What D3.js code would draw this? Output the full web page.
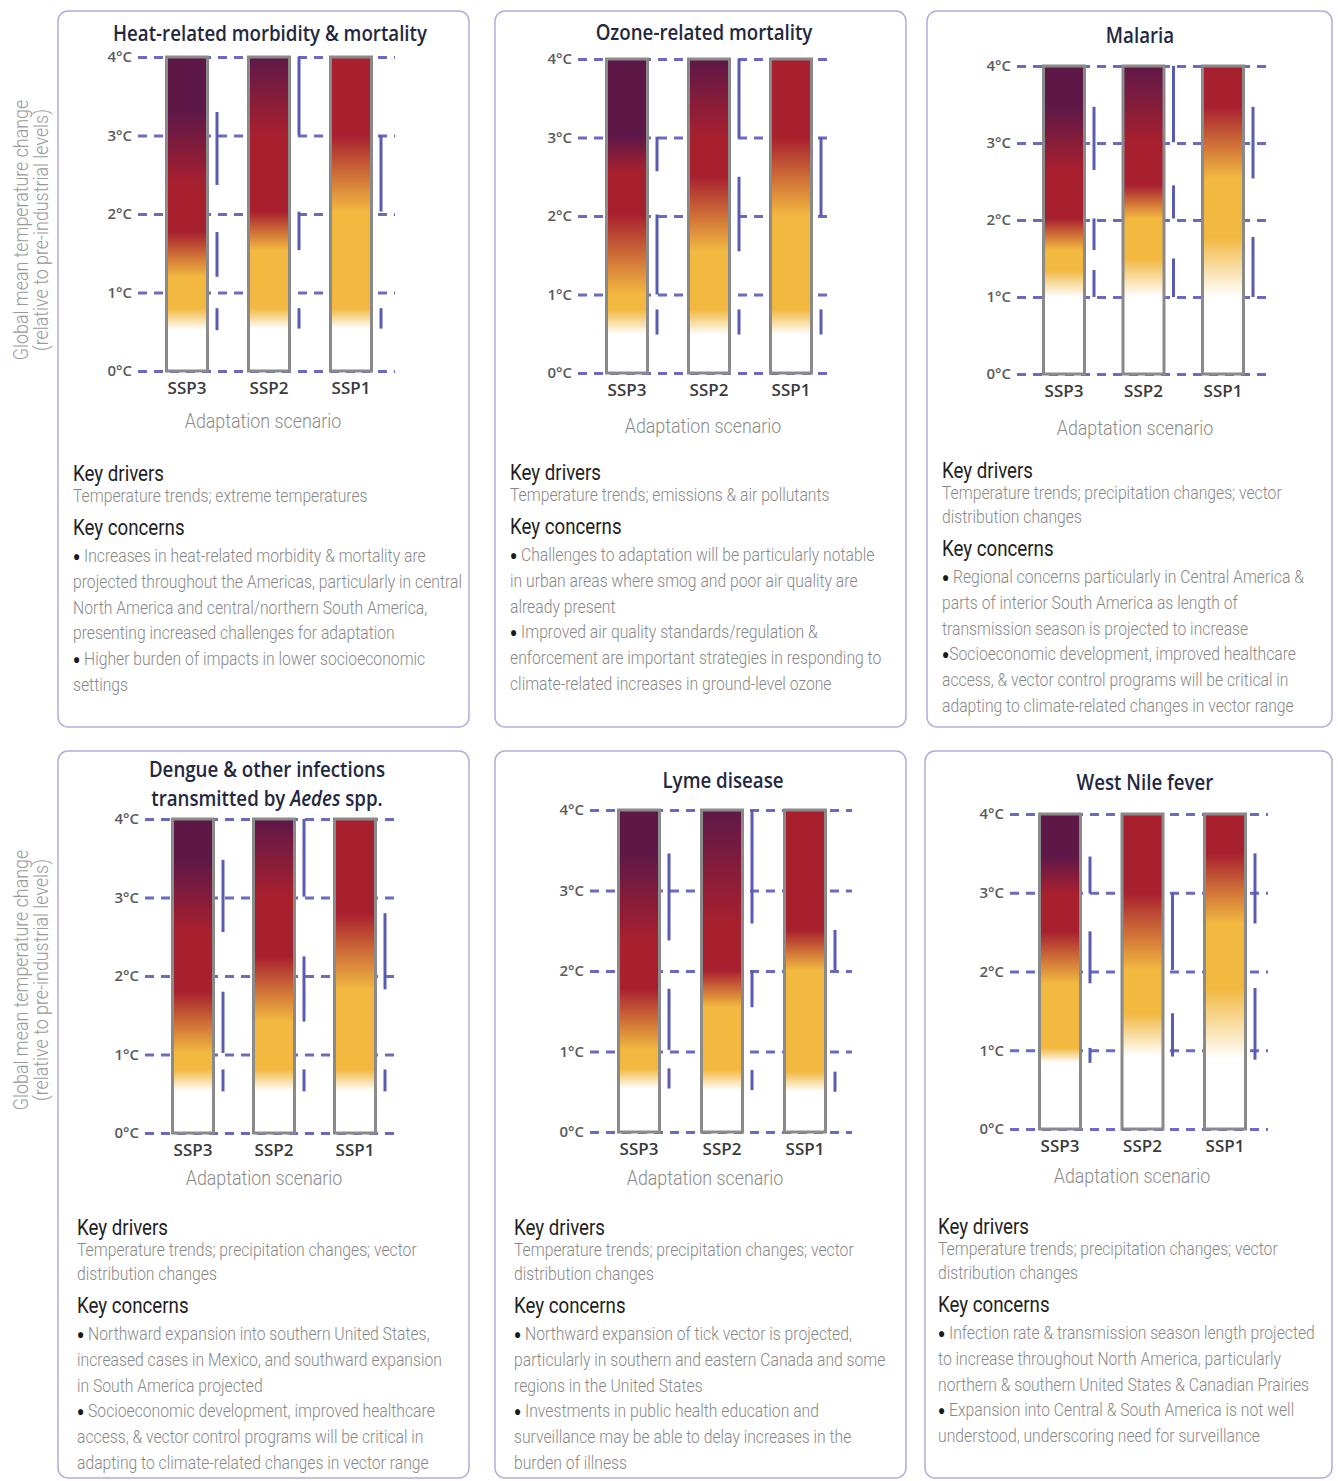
<!DOCTYPE html>
<html><head><meta charset="utf-8">
<script src="https://cdn.jsdelivr.net/npm/d3@7"></script>
<style>
body{margin:0;background:#fff;}
</style></head><body>
<div id="chart"></div>
<script>
// ---- data ----
const scenarios = ["SSP3", "SSP2", "SSP1"];
const tempTicks = [0, 1, 2, 3, 4];
const tickLabels = ["0°C", "1°C", "2°C", "3°C", "4°C"];

const titles = [
	["Heat-related morbidity & mortality"],
	["Ozone-related mortality"],
	["Malaria"],
	["Dengue & other infections", "transmitted by *Aedes* spp."],
	["Lyme disease"],
	["West Nile fever"]
];

// transition ranges (°C) per scenario: [none->moderate, moderate->high, high->very high]
const heatTransitions = [
	[[0.52, 0.80], [1.20, 1.77], [2.37, 3.30]],
	[[0.54, 0.80], [1.54, 2.03], [3.00, 4.00]],
	[[0.54, 0.80], [2.03, 3.00], null]
];
const ozoneTransitions = [
	[[0.49, 0.81], [1.00, 2.02], [2.57, 3.01]],
	[[0.49, 0.81], [1.55, 2.50], [2.99, 4.00]],
	[[0.49, 0.81], [2.00, 3.00], null]
];
const malariaTransitions = [
	[[1.00, 1.35], [1.61, 2.02], [2.65, 3.47]],
	[[1.00, 1.50], [2.02, 2.45], [3.01, 4.00]],
	[[1.00, 1.78], [2.54, 3.47], null]
];
const dengueTransitions = [
	[[0.53, 0.81], [1.02, 1.80], [2.56, 3.48]],
	[[0.53, 0.81], [1.42, 2.25], [3.01, 4.00]],
	[[0.53, 0.81], [1.83, 2.80], null]
];
const lymeTransitions = [
	[[0.54, 0.79], [1.02, 1.78], [2.38, 3.46]],
	[[0.52, 0.77], [1.55, 2.01], [2.59, 4.00]],
	[[0.50, 0.75], [2.01, 2.51], null]
];
const westNileTransitions = [
	[[0.84, 1.03], [1.85, 2.51], [2.99, 3.46]],
	[[0.92, 1.47], [2.02, 2.99], null],
	[[0.88, 1.79], [2.61, 3.50], null]
];
const transitions = [heatTransitions, ozoneTransitions, malariaTransitions,
	dengueTransitions, lymeTransitions, westNileTransitions];

const vectorDrivers = ["Temperature trends; precipitation changes; vector", "distribution changes"];
const drivers = [
	["Temperature trends; extreme temperatures"],
	["Temperature trends; emissions & air pollutants"],
	vectorDrivers, vectorDrivers, vectorDrivers, vectorDrivers
];
const concerns = [
	["• Increases in heat-related morbidity & mortality are",
	 "projected throughout the Americas, particularly in central",
	 "North America and central/northern South America,",
	 "presenting increased challenges for adaptation",
	 "• Higher burden of impacts in lower socioeconomic",
	 "settings"],
	["• Challenges to adaptation will be particularly notable",
	 "in urban areas where smog and poor air quality are",
	 "already present",
	 "• Improved air quality standards/regulation &",
	 "enforcement are important strategies in responding to",
	 "climate-related increases in ground-level ozone"],
	["• Regional concerns particularly in Central America &",
	 "parts of interior South America as length of",
	 "transmission season is projected to increase",
	 "•Socioeconomic development, improved healthcare",
	 "access, & vector control programs will be critical in",
	 "adapting to climate-related changes in vector range"],
	["• Northward expansion into southern United States,",
	 "increased cases in Mexico, and southward expansion",
	 "in South America projected",
	 "• Socioeconomic development, improved healthcare",
	 "access, & vector control programs will be critical in",
	 "adapting to climate-related changes in vector range"],
	["• Northward expansion of tick vector is projected,",
	 "particularly in southern and eastern Canada and some",
	 "regions in the United States",
	 "• Investments in public health education and",
	 "surveillance may be able to delay increases in the",
	 "burden of illness"],
	["• Infection rate & transmission season length projected",
	 "to increase throughout North America, particularly",
	 "northern & southern United States & Canadian Prairies",
	 "• Expansion into Central & South America is not well",
	 "understood, underscoring need for surveillance"]
];

// ---- layout (pixels) ----
const layout = [
	{box: [58, 11, 469, 727], left: 165, right: 373, y4: 57, y0: 371, g0: 138, g1: 395, titleX: 270, titleY: 41, axX: 263, axY: 428, tx: 73, ty: 481},
	{box: [495, 11, 906, 727], left: 605, right: 813, y4: 59, y0: 373, g0: 578, g1: 833, titleX: 704, titleY: 40, axX: 703, axY: 433, tx: 510, ty: 480},
	{box: [927, 11, 1332, 727], left: 1042, right: 1245, y4: 66, y0: 374, g0: 1017, g1: 1267, titleX: 1140, titleY: 43, axX: 1135, axY: 435, tx: 942, ty: 478},
	{box: [58, 751, 469, 1478], left: 171, right: 377, y4: 819, y0: 1133, g0: 145, g1: 397, titleX: 267, titleY: 777, axX: 264, axY: 1185, tx: 77, ty: 1235},
	{box: [495, 751, 906, 1478], left: 617, right: 827, y4: 810, y0: 1132, g0: 590, g1: 852, titleX: 723, titleY: 788, axX: 705, axY: 1185, tx: 514, ty: 1235},
	{box: [925, 751, 1332, 1478], left: 1038, right: 1247, y4: 814, y0: 1129, g0: 1010, g1: 1268, titleX: 1145, titleY: 790, axX: 1132, axY: 1183, tx: 938, ty: 1234}
];

const emberColors = ["#ffffff", "#f2b840", "#a8202e", "#5e1848"];
const barW = 44;
const lineCol = "#5b5bb3";
const textScale = 0.85;

const svg = d3.select("#chart").append("svg")
	.attr("width", 1338).attr("height", 1481);
const defs = svg.append("defs");

function addLine(g, str, x, y, opts) {
	const w = g.append("g").attr("transform", `translate(${x},${y}) scale(${opts.sx},1)`);
	const t = w.append("text")
		.attr("text-anchor", opts.anchor || "start")
		.style("font-family", opts.family || "Roboto")
		.style("font-weight", opts.weight || 300)
		.style("font-size", opts.size + "px")
		.attr("fill", opts.fill);
	let dy = 0;
	if (str.startsWith("•")) {
		t.append("tspan").attr("fill", "#1a1a1a")
			.style("font-size", "14px").attr("dy", -1.5).text("●");
		dy = 1.5;
		str = str.startsWith("• ") ? " " + str.slice(2) : str.slice(1);
	}
	str.split("*").forEach((part, i) => {
		const s = t.append("tspan").text(part);
		if (i == 0 && dy) s.attr("dy", dy);
		if (i % 2 == 1) s.style("font-style", "italic");
	});
	return w;
}

// y axis titles
[230, 980].forEach(cy => {
	const yt = svg.append("g");
	[["Global mean temperature change", 28], ["(relative to pre-industrial levels)", 48]].forEach(([s, x]) => {
		yt.append("g").attr("transform", `translate(${x},${cy}) rotate(-90) scale(${textScale},1)`)
			.append("text").attr("text-anchor", "middle")
			.style("font-family", "Roboto").style("font-weight", 300).style("font-size", "21px")
			.attr("fill", "#9a9a9a").text(s);
	});
});

layout.forEach((L, p) => {
	const g = svg.append("g");
	const [bx0, by0, bx1, by1] = L.box;
	g.append("rect")
		.attr("x", bx0).attr("y", by0)
		.attr("width", bx1 - bx0).attr("height", by1 - by0)
		.attr("rx", 10)
		.attr("fill", "white")
		.attr("stroke", "#b3acdb").attr("stroke-width", 1.5);

	// title
	titles[p].forEach((s, i) => {
		addLine(g, s, L.titleX, L.titleY + i * 29, {sx: 0.87, anchor: "middle", family: "Open Sans", weight: 600, size: 21.5, fill: "#232840"});
	});

	const W = L.right - L.left;
	const x = d3.scaleBand()
		.domain(scenarios)
		.range([L.left, L.right])
		.paddingInner((W - 3 * barW) / (W - barW))
		.paddingOuter(0);

	const y = d3.scaleLinear()
		.domain([0, 4])
		.range([L.y0, L.y4]);

	// dashed grid + tick labels
	const ax = g.append("g")
		.attr("transform", `translate(${L.g0},0)`)
		.call(d3.axisLeft(y).tickValues(tempTicks)
			.tickFormat((d, i) => tickLabels[i])
			.tickSizeInner(-(L.g1 - L.g0)).tickSizeOuter(0).tickPadding(6));
	ax.select(".domain").remove();
	ax.selectAll(".tick line")
		.attr("stroke", "#6a6ac0").attr("stroke-width", 3)
		.attr("stroke-dasharray", "9,7");
	ax.selectAll(".tick text")
		.style("font-family", "Open Sans").style("font-weight", 600)
		.style("font-size", "15px").attr("fill", "#5a5a5a");

	// SSP labels
	const bx = g.append("g")
		.attr("transform", `translate(0,${L.y0})`)
		.call(d3.axisBottom(x).tickSize(0).tickPadding(11));
	bx.select(".domain").remove();
	bx.selectAll(".tick text")
		.style("font-family", "Open Sans").style("font-weight", 600)
		.style("font-size", "17px").attr("fill", "#3a3a3a");

	// ember bars
	scenarios.forEach((sc, i) => {
		const tr = transitions[p][i];
		const id = `ember${p}_${i}`;
		const stops = [[0, 0]];
		tr.forEach((r, k) => {
			if (r) { stops.push([r[0], k]); stops.push([r[1], k + 1]); }
		});
		stops.push([4, stops[stops.length - 1][1]]);
		const grad = defs.append("linearGradient").attr("id", id)
			.attr("gradientUnits", "userSpaceOnUse")
			.attr("x1", 0).attr("x2", 0)
			.attr("y1", y(0)).attr("y2", y(4));
		grad.selectAll("stop").data(stops).join("stop")
			.attr("offset", d => d[0] / 4)
			.attr("stop-color", d => emberColors[d[1]]);

		g.append("rect")
			.attr("x", x(sc) + 1.5).attr("y", y(4))
			.attr("width", x.bandwidth() - 3).attr("height", y(0) - y(4))
			.attr("fill", `url(#${id})`)
			.attr("stroke", "#8a8a8a").attr("stroke-width", 3);

		// transition range markers
		g.selectAll(null)
			.data(tr.filter(r => r))
			.join("line")
			.attr("x1", x(sc) + x.bandwidth() + 8).attr("x2", x(sc) + x.bandwidth() + 8)
			.attr("y1", d => y(d[0])).attr("y2", d => y(d[1]))
			.attr("stroke", lineCol).attr("stroke-width", 3);
	});

	// x axis title
	addLine(g, "Adaptation scenario", L.axX, L.axY, {sx: textScale, anchor: "middle", size: 21, fill: "#8a8a8a"});

	// text block
	let ty = L.ty;
	addLine(g, "Key drivers", L.tx, ty, {sx: textScale, weight: 400, size: 22, fill: "#222"});
	ty += 21;
	drivers[p].forEach((s, i) => {
		addLine(g, s, L.tx, ty + i * 24, {sx: textScale, size: 18.5, fill: "#878787"});
	});
	ty += (drivers[p].length - 1) * 24 + 33;
	addLine(g, "Key concerns", L.tx, ty, {sx: textScale, weight: 400, size: 22, fill: "#222"});
	ty += 27;
	concerns[p].forEach((s, i) => {
		addLine(g, s, L.tx, ty + i * 25.8, {sx: textScale, size: 18.5, fill: "#878787"});
	});
});
</script>
</body></html>
